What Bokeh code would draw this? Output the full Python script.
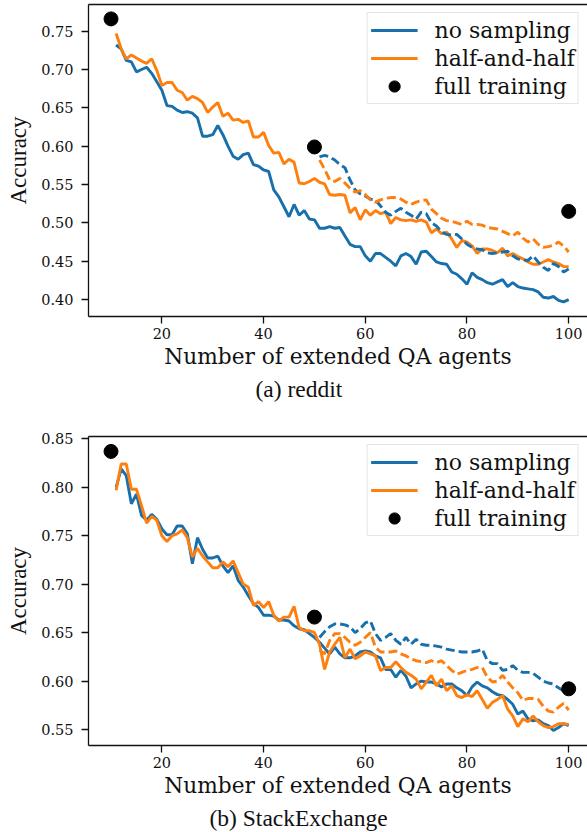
from bokeh.plotting import figure
from bokeh.layouts import column
from bokeh.models import (Range1d, FixedTicker, PrintfTickFormatter, LinearAxis,
                          Legend, LegendItem, Title)
from bokeh.embed import file_html
from bokeh.resources import INLINE

# ---------------- data ----------------
x_solid = list(range(11, 101))
x_dashed = list(range(51, 101))
x_full = [10, 50, 100]
x_ticks = [20, 40, 60, 80, 100]

reddit_no_sampling = [
    0.732, 0.727, 0.712, 0.710, 0.697, 0.700, 0.703, 0.695, 0.684, 0.673,
    0.653, 0.652, 0.647, 0.644, 0.645, 0.643, 0.637, 0.613, 0.613, 0.615,
    0.627, 0.615, 0.600, 0.587, 0.583, 0.589, 0.591, 0.576, 0.574, 0.569,
    0.567, 0.543, 0.534, 0.521, 0.508, 0.524, 0.510, 0.516, 0.505, 0.504,
    0.493, 0.493, 0.495, 0.493, 0.494, 0.483, 0.472, 0.469, 0.469, 0.457,
    0.450, 0.460, 0.460, 0.455, 0.450, 0.444, 0.457, 0.460, 0.456, 0.446,
    0.462, 0.463, 0.456, 0.449, 0.447, 0.446, 0.436, 0.433, 0.427, 0.420,
    0.435, 0.429, 0.426, 0.422, 0.420, 0.423, 0.426, 0.417, 0.422, 0.417,
    0.415, 0.414, 0.413, 0.410, 0.403, 0.402, 0.404, 0.399, 0.397, 0.400]
reddit_half = [
    0.747, 0.727, 0.714, 0.719, 0.715, 0.711, 0.708, 0.714, 0.699, 0.679,
    0.683, 0.683, 0.673, 0.670, 0.660, 0.665, 0.662, 0.657, 0.644, 0.651,
    0.657, 0.639, 0.643, 0.634, 0.635, 0.631, 0.633, 0.612, 0.612, 0.618,
    0.601, 0.591, 0.592, 0.577, 0.583, 0.579, 0.552, 0.551, 0.554, 0.558,
    0.553, 0.551, 0.537, 0.536, 0.537, 0.536, 0.513, 0.520, 0.504, 0.517,
    0.510, 0.516, 0.512, 0.514, 0.499, 0.507, 0.504, 0.503, 0.504, 0.502,
    0.504, 0.501, 0.487, 0.492, 0.486, 0.488, 0.479, 0.468, 0.477, 0.475,
    0.470, 0.460, 0.466, 0.466, 0.464, 0.461, 0.467, 0.457, 0.460, 0.456,
    0.453, 0.449, 0.446, 0.446, 0.449, 0.452, 0.449, 0.447, 0.443, 0.443]
reddit_no_sampling_ext = [
    0.586, 0.588, 0.586, 0.582, 0.576, 0.572, 0.556, 0.543, 0.538, 0.535,
    0.531, 0.530, 0.522, 0.514, 0.510, 0.515, 0.519, 0.514, 0.510, 0.505,
    0.514, 0.512, 0.500, 0.496, 0.488, 0.485, 0.484, 0.485, 0.479, 0.472,
    0.468, 0.466, 0.465, 0.461, 0.460, 0.461, 0.462, 0.463, 0.457, 0.453,
    0.452, 0.451, 0.457, 0.449, 0.442, 0.438, 0.447, 0.443, 0.436, 0.440]
reddit_half_ext = [
    0.582, 0.570, 0.556, 0.554, 0.558, 0.552, 0.545, 0.540, 0.542, 0.537,
    0.530, 0.527, 0.530, 0.532, 0.533, 0.533, 0.531, 0.527, 0.524, 0.527,
    0.529, 0.530, 0.518, 0.512, 0.506, 0.503, 0.502, 0.500, 0.498, 0.502,
    0.498, 0.498, 0.497, 0.494, 0.493, 0.492, 0.489, 0.486, 0.483, 0.488,
    0.480, 0.475, 0.479, 0.472, 0.468, 0.469, 0.471, 0.475, 0.470, 0.462]
reddit_full = [0.766, 0.599, 0.515]
reddit_yticks = [0.40, 0.45, 0.50, 0.55, 0.60, 0.65, 0.70, 0.75]

se_no_sampling = [
    0.800, 0.819, 0.812, 0.783, 0.793, 0.771, 0.766, 0.772, 0.767, 0.757,
    0.751, 0.751, 0.760, 0.760, 0.752, 0.721, 0.748, 0.736, 0.727, 0.727,
    0.729, 0.719, 0.712, 0.719, 0.704, 0.697, 0.688, 0.680, 0.676, 0.668,
    0.668, 0.667, 0.663, 0.663, 0.662, 0.657, 0.654, 0.653, 0.649, 0.645,
    0.640, 0.634, 0.628, 0.635, 0.628, 0.624, 0.624, 0.626, 0.630, 0.631,
    0.630, 0.626, 0.624, 0.612, 0.612, 0.604, 0.611, 0.605, 0.593, 0.597,
    0.600, 0.599, 0.599, 0.597, 0.594, 0.597, 0.597, 0.593, 0.590, 0.585,
    0.594, 0.599, 0.595, 0.593, 0.589, 0.586, 0.585, 0.581, 0.576, 0.566,
    0.569, 0.561, 0.559, 0.560, 0.556, 0.554, 0.549, 0.552, 0.556, 0.554]
se_half = [
    0.797, 0.824, 0.824, 0.798, 0.798, 0.781, 0.763, 0.770, 0.766, 0.750,
    0.744, 0.750, 0.752, 0.756, 0.748, 0.728, 0.737, 0.729, 0.723, 0.717,
    0.717, 0.723, 0.718, 0.724, 0.712, 0.700, 0.697, 0.678, 0.682, 0.676,
    0.682, 0.668, 0.662, 0.666, 0.666, 0.677, 0.655, 0.652, 0.652, 0.650,
    0.638, 0.612, 0.630, 0.638, 0.645, 0.624, 0.633, 0.623, 0.626, 0.630,
    0.628, 0.626, 0.611, 0.614, 0.614, 0.620, 0.614, 0.609, 0.606, 0.602,
    0.592, 0.599, 0.606, 0.595, 0.602, 0.590, 0.595, 0.585, 0.583, 0.586,
    0.584, 0.590, 0.581, 0.572, 0.578, 0.581, 0.585, 0.571, 0.564, 0.553,
    0.561, 0.558, 0.564, 0.558, 0.554, 0.552, 0.553, 0.556, 0.556, 0.555]
se_no_sampling_ext = [
    0.645, 0.651, 0.656, 0.659, 0.659, 0.658, 0.656, 0.650, 0.654, 0.660,
    0.662, 0.649, 0.642, 0.645, 0.649, 0.642, 0.638, 0.645, 0.638, 0.643,
    0.638, 0.637, 0.637, 0.636, 0.635, 0.633, 0.632, 0.631, 0.630, 0.630,
    0.630, 0.631, 0.633, 0.621, 0.618, 0.618, 0.611, 0.612, 0.616, 0.611,
    0.609, 0.609, 0.608, 0.604, 0.600, 0.598, 0.597, 0.593, 0.590, 0.592]
se_half_ext = [
    0.632, 0.628, 0.642, 0.649, 0.649, 0.645, 0.640, 0.637, 0.640, 0.645,
    0.650, 0.635, 0.630, 0.630, 0.630, 0.631, 0.628, 0.626, 0.623, 0.621,
    0.620, 0.619, 0.621, 0.619, 0.621, 0.616, 0.611, 0.607, 0.609, 0.611,
    0.612, 0.614, 0.614, 0.604, 0.599, 0.600, 0.606, 0.599, 0.593, 0.588,
    0.580, 0.582, 0.582, 0.581, 0.574, 0.569, 0.568, 0.573, 0.577, 0.570]
se_full = [0.837, 0.666, 0.592]
se_yticks = [0.55, 0.60, 0.65, 0.70, 0.75, 0.80, 0.85]

labels = ["no sampling", "half-and-half", "full training"]
captions = ["(a) reddit", "(b) StackExchange"]
x_label = "Number of extended QA agents"
y_label = "Accuracy"

# ---------------- style ----------------
BLUE = "#176fab"
ORANGE = "#ff7f0e"
SERIF = "DejaVu Serif"
TIMES = "Liberation Serif"
INK = "#111111"
LW = 2.9


def style_axis(ax):
    ax.axis_line_color = INK
    ax.axis_line_width = 1.3
    ax.major_tick_line_color = INK
    ax.major_tick_line_width = 1.3
    ax.major_tick_out = 7
    ax.major_tick_in = 0
    ax.minor_tick_line_color = None
    ax.major_label_text_font = SERIF
    ax.major_label_text_font_size = "14.5px"
    ax.major_label_text_color = INK


def make_panel(ns, hh, ns_ext, hh_ext, full, yticks, yrange, caption,
               cap_offset, top_border, frame_h):
    p = figure(frame_width=499, frame_height=frame_h,
               x_range=Range1d(5.57, 103.7), y_range=Range1d(*yrange),
               output_backend="svg", toolbar_location=None,
               min_border_left=88, min_border_right=0,
               min_border_top=top_border, min_border_bottom=0)
    p.outline_line_color = None
    p.xgrid.grid_line_color = None
    p.ygrid.grid_line_color = None
    p.background_fill_color = "white"
    p.border_fill_color = "white"

    xa = p.xaxis[0]
    style_axis(xa)
    xa.ticker = FixedTicker(ticks=x_ticks)
    xa.major_label_standoff = 4
    xa.axis_label = x_label
    xa.axis_label_text_font = SERIF
    xa.axis_label_text_font_size = "21.7px"
    xa.axis_label_text_font_style = "normal"
    xa.axis_label_text_color = INK
    xa.axis_label_standoff = 2

    ya = p.yaxis[0]
    style_axis(ya)
    ya.ticker = FixedTicker(ticks=yticks)
    ya.formatter = PrintfTickFormatter(format="%.2f")
    ya.major_label_standoff = 8
    ya.axis_label = y_label
    ya.axis_label_text_font = TIMES
    ya.axis_label_text_font_size = "23px"
    ya.axis_label_text_font_style = "normal"
    ya.axis_label_text_color = INK
    ya.axis_label_standoff = 7

    top = LinearAxis(ticker=FixedTicker(ticks=[]), major_label_text_font_size="0px",
                     major_tick_out=0, major_tick_in=0, major_label_standoff=0,
                     axis_line_color=INK, axis_line_width=1.3)
    p.add_layout(top, "above")

    r_ns = p.line(x_solid, ns, line_color=BLUE, line_width=LW)
    r_hh = p.line(x_solid, hh, line_color=ORANGE, line_width=LW)
    p.line(x_dashed, ns_ext, line_color=BLUE, line_width=LW, line_dash="9 4")
    p.line(x_dashed, hh_ext, line_color=ORANGE, line_width=LW, line_dash="9 4")
    r_full = p.scatter(x_full, full, size=14, color="black")

    legend = Legend(items=[LegendItem(label=labels[0], renderers=[r_ns]),
                           LegendItem(label=labels[1], renderers=[r_hh]),
                           LegendItem(label=labels[2], renderers=[r_full])],
                    location="top_right", margin=8, padding=3, spacing=0,
                    glyph_width=47, glyph_height=28, label_standoff=17,
                    label_text_font=SERIF, label_text_font_size="22px",
                    label_text_color=INK,
                    border_line_color="#cccccc", border_line_width=1.2,
                    background_fill_alpha=0.9)
    p.add_layout(legend, "center")

    cap = Title(text=caption, align="left", offset=cap_offset, standoff=4,
                text_font=TIMES, text_font_size="23.5px", text_font_style="normal",
                text_color=INK)
    p.add_layout(cap, "below")
    return p


p1 = make_panel(reddit_no_sampling, reddit_half, reddit_no_sampling_ext, reddit_half_ext,
                reddit_full, reddit_yticks, (0.3779, 0.7848), captions[0], 167, 4, 312)
p2 = make_panel(se_no_sampling, se_half, se_no_sampling_ext, se_half_ext,
                se_full, se_yticks, (0.5335, 0.8524), captions[1], 121, 33, 309)

layout = column(p1, p2, spacing=0)
open("out.html", "w").write(file_html(layout, INLINE))
